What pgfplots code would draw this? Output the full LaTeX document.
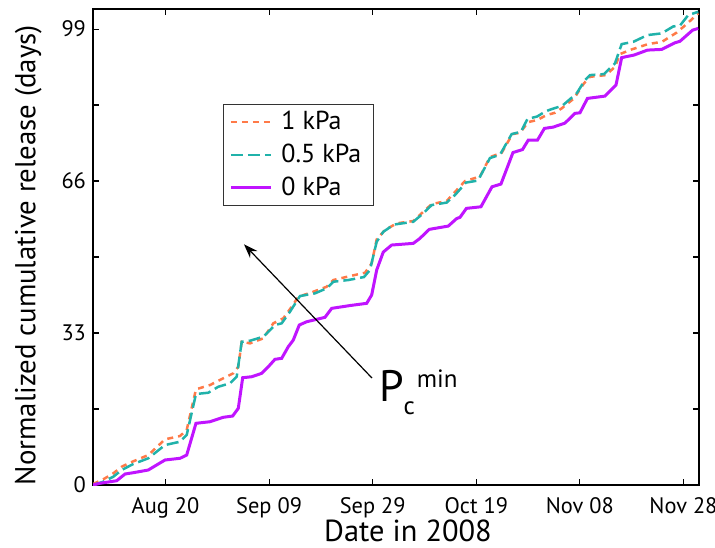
\documentclass[border=0pt]{standalone}
\usepackage{pgfplots}
\pgfplotsset{compat=1.18}
\usetikzlibrary{arrows.meta}
\usepackage{fontspec}
\setmainfont{PT Sans}
\definecolor{cOrange}{RGB}{255,122,72}
\definecolor{cTeal}{RGB}{32,178,170}
\definecolor{cPurple}{RGB}{192,20,255}
\begin{document}
\begin{tikzpicture}
\path[use as bounding box] (-46.5pt,-31pt) rectangle (311pt,242.5pt);
\begin{axis}[
    scale only axis,
    width=303pt, height=237.85pt,
    xmin=0, xmax=117, ymin=0, ymax=103.3,
    xtick={14,34,54,74,94,114},
    xticklabels={Aug 20,Sep 09,Sep 29,Oct 19,Nov 08,Nov 28},
    ytick={0,16.5,33,49.5,66,82.5,99},
    yticklabels={0,,33,,66,,99},
    tick align=inside,
    major tick length=3pt,
    every tick/.style={black, line width=0.6pt},
    axis line style={line width=0.9pt},
    ticklabel style={font=\fontsize{11.2}{13}\selectfont},
    xticklabel style={yshift=-2.5pt},
    /pgf/number format/assume math mode=true,
    xlabel={Date in 2008},
    ylabel={Normalized cumulative release (days)},
    xlabel style={font=\fontsize{15.2}{17}\selectfont, at={(axis description cs:0.5,0)},
        anchor=base, inner sep=0pt, yshift=-28pt, xshift=6pt},
    ylabel style={font=\fontsize{14.4}{16}\selectfont, yshift=3pt, xshift=-4pt},
    legend style={at={(0.2145,0.801)}, anchor=north west, draw=black!80,
        line width=0.5pt, font=\fontsize{13}{15}\selectfont,
        inner xsep=3pt, inner ysep=1.5pt, row sep=1.6pt,
        /tikz/every odd column/.append style={column sep=2.5pt}},
    legend cell align=left,
    legend image code/.code={\draw[#1] (0pt,0pt) -- (20pt,0pt);},
]
% 1 kPa
\addplot[cOrange, line width=1.25pt, dash pattern=on 3pt off 2.5pt] coordinates {
(0,0.22) (1.99,1.24) (3.92,2.54) (5.54,3.97) (7.14,4.84) (10.68,6.51)
(13.90,9.92) (16.80,10.64) (18.09,11.94) (19.88,20.78) (22.59,21.71)
(25.15,23.17) (27.08,24.25) (28.05,25.68) (28.71,31.11) (30.31,30.76)
(32.88,31.85) (34.81,35.11) (36.74,36.19) (38.36,38.71) (39.64,40.88)
(42.53,41.97) (45.12,43.05) (46.39,44.51) (49.61,45.37) (52.51,46.09)
(53.80,48.13) (54.77,53.34) (56.37,55.36) (58.63,56.82) (61.83,57.32)
(65.39,61.01) (68.28,61.66) (71.81,66.00) (74.71,66.98) (76.64,71.21)
(78.90,72.14) (80.98,76.20) (82.43,76.49) (84.04,78.81) (85.71,79.24)
(87.59,80.33) (89.19,80.83) (90.48,81.78) (92.86,83.95) (94.79,87.21)
(95.95,88.64) (99.03,89.01) (100.77,90.81) (101.74,93.57) (103.86,94.53)
(107.14,95.74) (109.85,96.24) (112.68,98.24) (114.61,100.09) (116.85,102.41)
};
\addlegendentry{1 kPa\hspace*{1pt}}
% 0.5 kPa
\addplot[cTeal, line width=1.25pt, dash pattern=on 6pt off 2.5pt] coordinates {
(0,0) (1.99,0.72) (3.92,1.80) (5.54,3.26) (7.78,4.56) (10.68,5.80)
(13.90,8.68) (16.80,9.40) (18.09,10.86) (19.88,19.76) (22.26,20.04)
(24.19,21.34) (26.45,22.08) (27.74,23.51) (28.71,31.11) (30.31,31.33)
(32.88,32.20) (34.17,33.65) (35.13,34.74) (36.43,35.11) (38.03,37.63)
(39.96,41.03) (42.86,41.62) (45.12,42.71) (46.39,44.14) (49.29,44.51)
(52.32,45.16) (53.47,46.68) (54.77,52.82) (56.04,54.99) (58.11,56.56)
(61.83,57.16) (63.76,58.99) (65.39,60.79) (68.28,61.33) (69.88,62.96)
(72.01,65.67) (74.32,66.11) (76.64,71.00) (78.57,71.71) (80.83,76.20)
(82.62,76.70) (83.88,79.50) (85.71,80.00) (87.26,81.05) (88.03,81.42)
(90.64,82.39) (93.38,85.04) (94.98,87.93) (95.95,89.01) (98.65,89.23)
(100.77,91.55) (102.07,95.74) (104.31,96.24) (107.05,97.70) (109.79,98.07)
(112.03,99.58) (113.32,99.76) (114.92,102.04) (116.85,102.76)
};
\addlegendentry{0.5 kPa\hspace*{1pt}}
% 0 kPa
\addplot[cPurple, line width=1.5pt] coordinates {
(0,0) (1.35,0.37) (4.58,0.93) (6.18,2.39) (7.78,2.67) (10.68,3.26)
(13.90,5.43) (16.80,5.80) (18.09,6.51) (19.88,13.40) (22.59,13.74)
(25.15,14.70) (26.97,14.98) (28.05,16.65) (28.90,23.30) (30.64,23.51)
(32.57,24.25) (33.84,25.68) (35.13,27.29) (36.43,27.51) (37.70,30.03)
(38.67,31.48) (39.83,34.74) (41.25,35.45) (44.79,36.41) (46.08,38.36)
(49.61,38.97) (52.84,39.45) (53.80,41.25) (54.77,46.68) (56.04,50.58)
(57.66,52.11) (61.83,52.47) (63.12,53.56) (64.92,55.51) (68.59,56.23)
(70.21,57.86) (70.85,58.12) (72.09,60.07) (74.90,60.42) (77.03,64.76)
(78.76,65.35) (81.08,72.19) (82.92,72.84) (84.04,74.90) (85.81,74.90)
(87.16,77.44) (88.86,77.72) (91.12,78.59) (93.05,80.70) (94.02,80.83)
(95.46,83.95) (98.84,84.45) (100.97,86.84) (102.07,92.81) (104.44,93.36)
(107.05,94.44) (109.79,94.59) (112.36,96.03) (113.32,96.35) (115.00,98.02)
(115.77,98.78) (116.85,99.15)
};
\addlegendentry{0 kPa\hspace*{1pt}}
\draw[-{Stealth[length=7pt,width=5pt]}, line width=0.6pt]
    (axis cs:53.86,23.23) -- (axis cs:29.15,52.26);
\node[anchor=base west, inner sep=0pt] at (axis cs:55.15,18.2)
    {\fontsize{22}{22}\selectfont P\fontsize{12.5}{12.5}\selectfont\raisebox{-6.5pt}{c}\hspace{1pt}\raisebox{7pt}{min}};
\end{axis}
\end{tikzpicture}
\end{document}
